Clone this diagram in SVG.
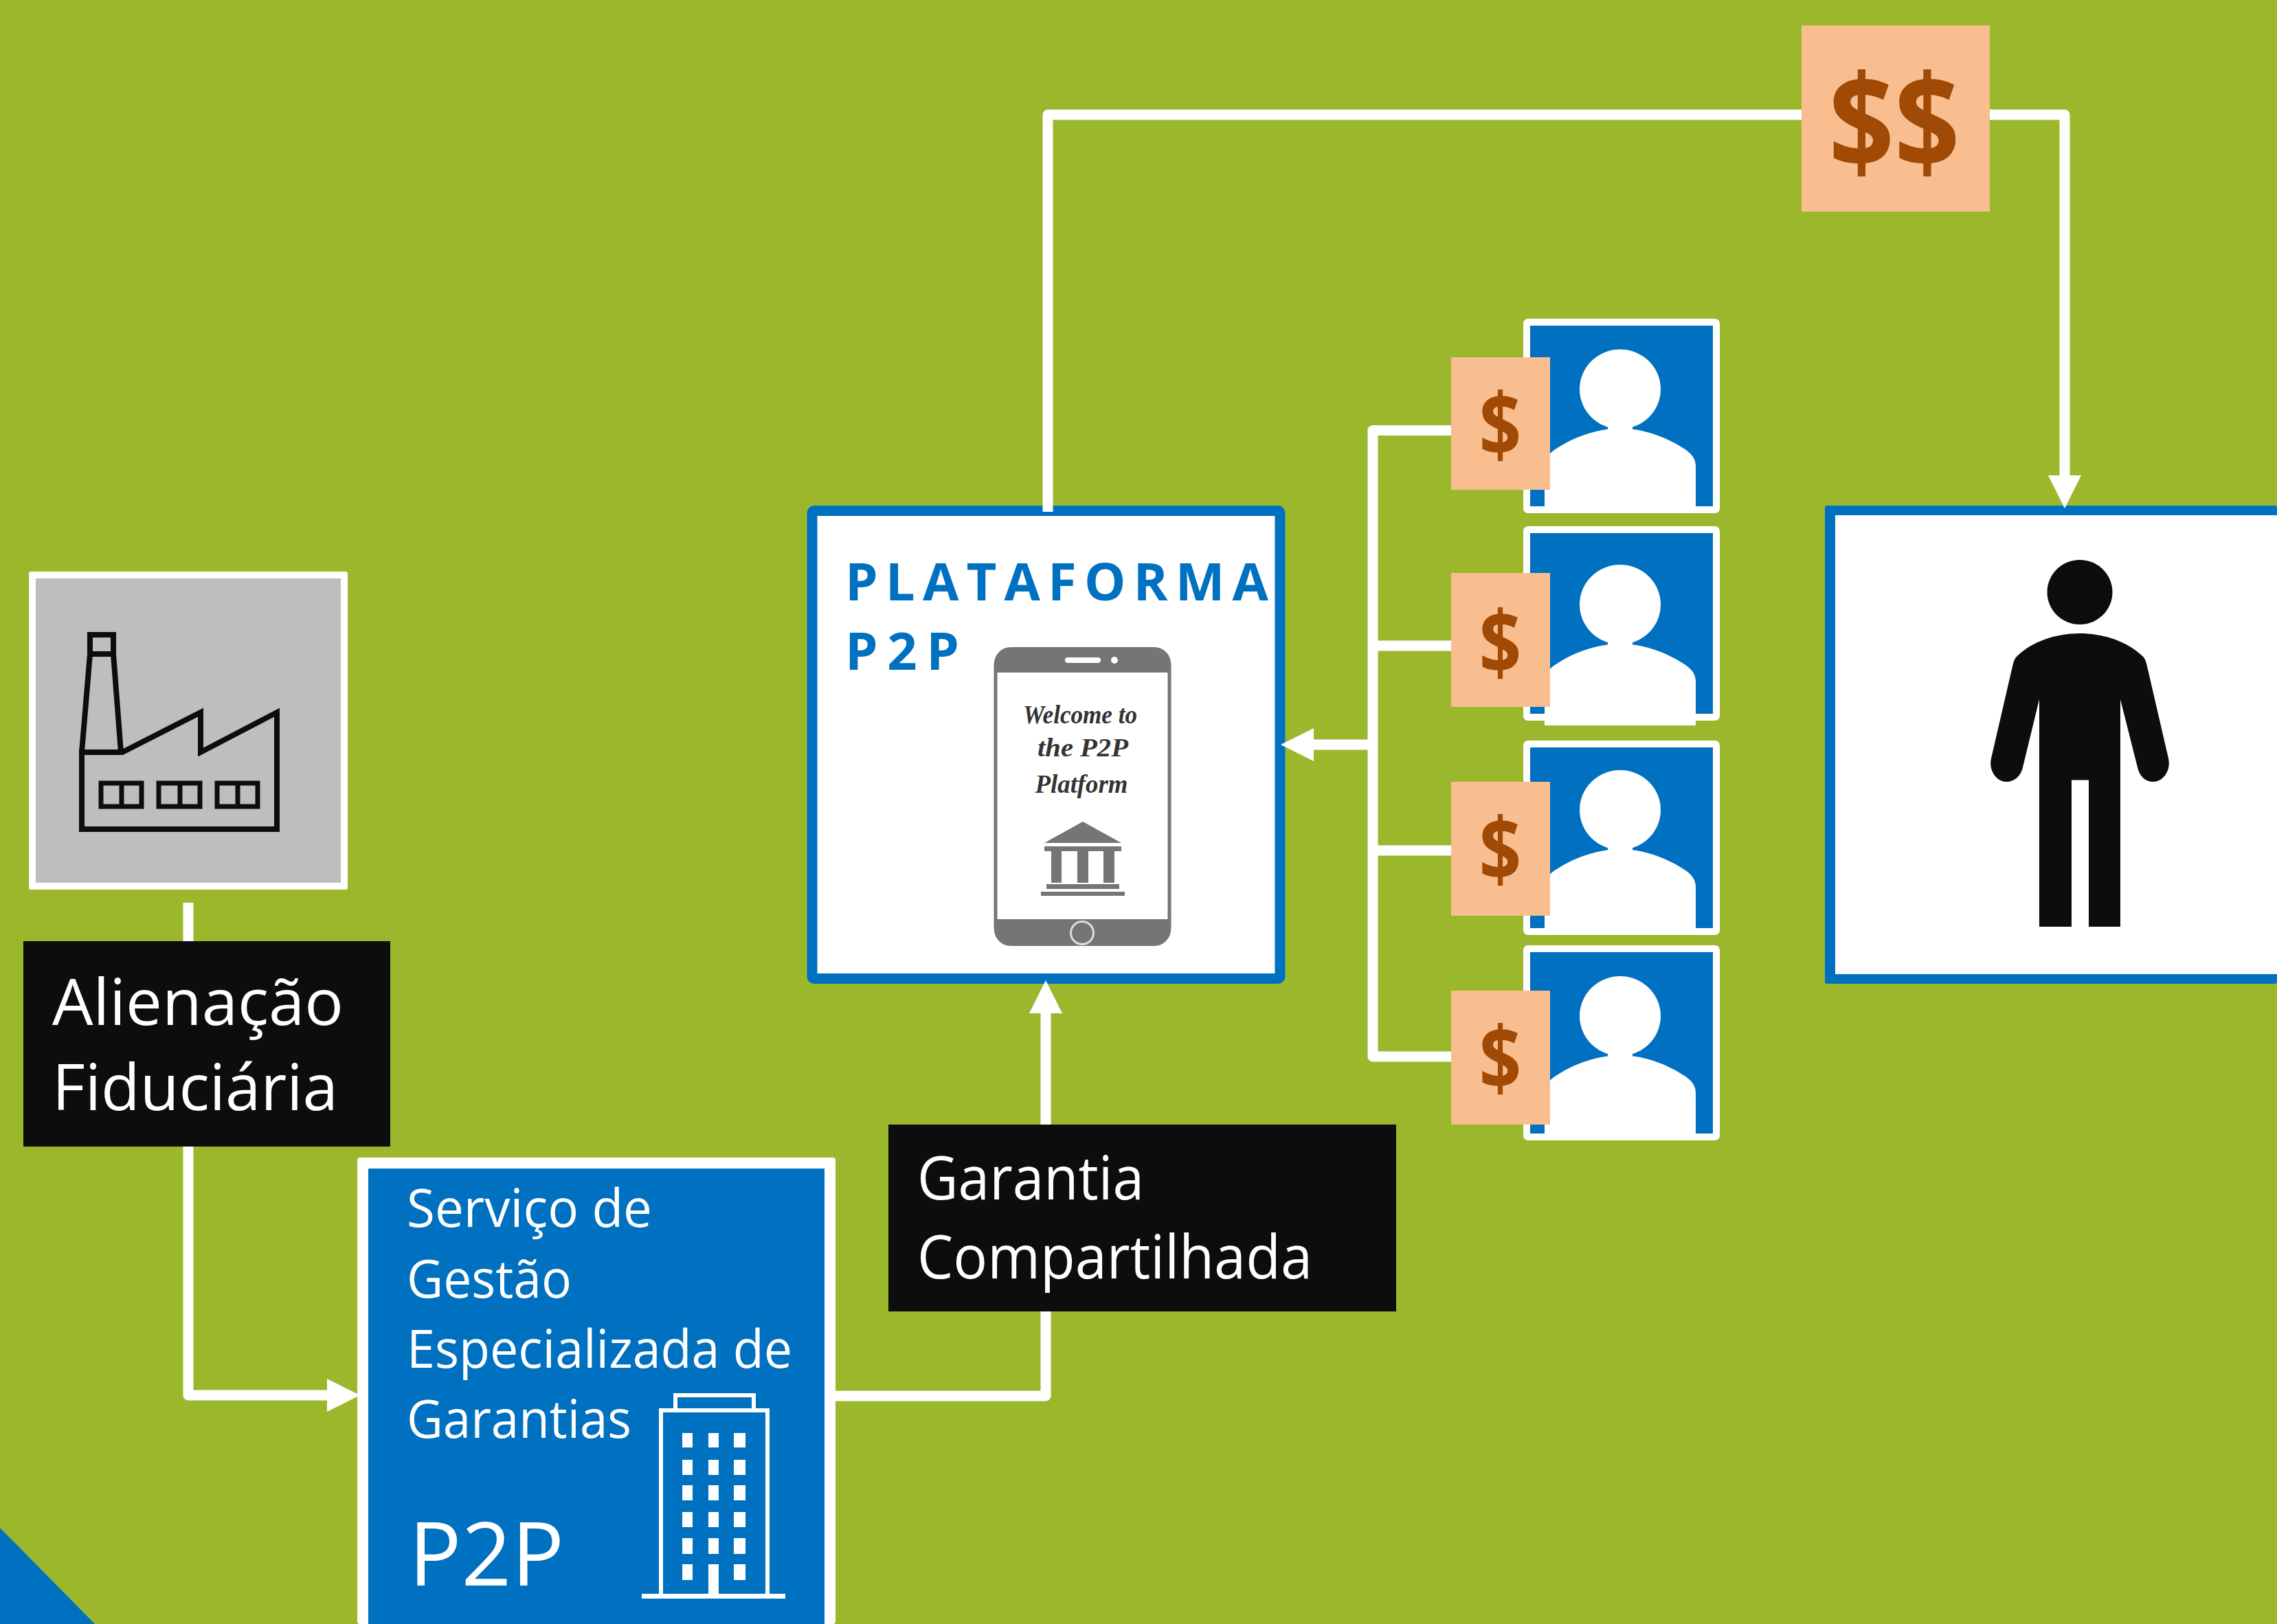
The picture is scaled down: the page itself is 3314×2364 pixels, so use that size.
<svg xmlns="http://www.w3.org/2000/svg" xmlns:xlink="http://www.w3.org/1999/xlink" width="3314" height="2364" viewBox="0 0 3314 2364">
<style>
.os{font-family:"Open Sans","Liberation Sans",sans-serif}
.wt{fill:#fff}
.lbl{font-size:94px}
.lbl2{font-size:88px}
.svc{font-size:76px}
.plat{font-size:76px;font-weight:700;fill:#0070C0}
.welcome{font-family:"Liberation Serif",serif;font-style:italic;font-weight:700;font-size:38px;fill:#333;text-anchor:middle}
.dollar{font-size:128px;font-weight:700;fill:#A04A05;text-anchor:middle}
.peach{fill:#F9BE8F}
.black{fill:#0D0D0D}
.card{fill:#0070C0;stroke:#fff;stroke-width:10;stroke-linejoin:round}
.conn{fill:none;stroke:#fff;stroke-width:15;stroke-linejoin:round}
.arrow{marker-end:url(#head)}
.fac{fill:none;stroke:#0D0D0D;stroke-width:8;stroke-linejoin:miter}
.bld{fill:none;stroke:#fff;stroke-width:6}
.ph{fill:#757575}
</style>
<defs>
<marker id="head" markerUnits="userSpaceOnUse" markerWidth="50" markerHeight="50" refX="0" refY="24" orient="auto" viewBox="0 0 50 48">
<path d="M0,0L48,24L0,48Z" fill="#fff"/>
</marker>
<g id="person">
<ellipse cx="0" cy="0" rx="59" ry="58" fill="#fff"/>
<rect x="-18" y="42" width="36" height="22" fill="#fff"/>
<path d="M-110,176V112C-110,100-102,92-92,86C-65,68-30,57 0,57C30,57 65,68 92,86C102,92 110,100 110,112V176Z" fill="#fff"/>
</g>
</defs>
<rect id="background" width="3314" height="2364" fill="#9BB82D"/>
<polygon id="corner" points="0,2224 138,2364 0,2364" fill="#0070C0"/>

<g id="factory">
<rect x="42" y="832" width="464" height="463" fill="#fff" rx="3"/>
<rect x="52" y="842" width="444" height="443" fill="#BEBEC0"/>
<path class="fac" d="M119,1095L131,952V924H165V952L176,1095M131,952H165"/>
<path class="fac" d="M119,1095H178L292,1037V1095L403,1037V1207H119Z"/>
<path class="fac" style="stroke-width:7" d="M147,1140H206V1174H147ZM177,1140V1174M231,1140H291V1174H231ZM262,1140V1174M316,1140H375V1174H316ZM346,1140V1174"/>
</g>

<g id="service">
<rect x="520" y="1685" width="696" height="679" rx="4" fill="#fff"/>
<rect x="536" y="1701" width="664" height="663" fill="#0070C0"/>
<text class="os wt svc" x="592" y="1786" textLength="357" lengthAdjust="spacingAndGlyphs">Serviço de</text>
<text class="os wt svc" x="592" y="1889" textLength="240" lengthAdjust="spacingAndGlyphs">Gestão</text>
<text class="os wt svc" x="592" y="1991" textLength="561" lengthAdjust="spacingAndGlyphs">Especializada de</text>
<text class="os wt svc" x="592" y="2093" textLength="327" lengthAdjust="spacingAndGlyphs">Garantias</text>
<text class="os wt" style="font-size:128px" x="595" y="2308" textLength="226" lengthAdjust="spacingAndGlyphs">P2P</text>
<path class="bld" d="M983,2053V2031H1097V2053M962,2324V2053H1117V2324"/>
<rect x="934" y="2320" width="209" height="7" fill="#fff"/>
<path fill="#fff" d="M993,2086h15v21h-15zM1031,2086h15v21h-15zM1068,2086h17v21h-17zM993,2125h15v22h-15zM1031,2125h15v22h-15zM1068,2125h17v22h-17zM993,2162h15v22h-15zM1031,2162h15v22h-15zM1068,2162h17v22h-17zM993,2201h15v22h-15zM1031,2201h15v22h-15zM1068,2201h17v22h-17zM993,2239h15v23h-15zM1031,2239h15v23h-15zM1068,2239h17v23h-17zM993,2277h15v23h-15zM1031,2277h15v47h-15zM1068,2277h17v23h-17z"/>
</g>

<g id="platform">
<rect x="1182" y="743.5" width="681" height="681" rx="3" fill="#fff" stroke="#0070C0" stroke-width="15"/>
<text class="os plat" x="1230" y="874" textLength="616">PLATAFORMA</text>
<text class="os plat" x="1230" y="975" textLength="166">P2P</text>
<rect x="1449" y="945" width="253" height="429" rx="24" fill="#fff" stroke="#757575" stroke-width="5"/>
<path class="ph" d="M1447,979V966a24,24 0 0 1 24-24H1680a24,24 0 0 1 24,24V979Z"/>
<path class="ph" d="M1447,1338V1353a24,24 0 0 0 24,24H1680a24,24 0 0 0 24-24V1338Z"/>
<rect x="1550" y="957" width="52" height="8" rx="4" fill="#fff"/>
<circle cx="1622" cy="961" r="5" fill="#fff"/>
<circle cx="1575" cy="1358" r="16.500" fill="#757575" stroke="#ddd" stroke-width="3"/>
<text class="welcome" x="1572" y="1053" textLength="166" lengthAdjust="spacingAndGlyphs">Welcome to</text>
<text class="welcome" x="1576" y="1101" textLength="132" lengthAdjust="spacingAndGlyphs">the P2P</text>
<text class="welcome" x="1574" y="1154" textLength="135" lengthAdjust="spacingAndGlyphs">Platform</text>
<path class="ph" d="M1576,1196L1632,1227H1520Z"/>
<rect class="ph" x="1520" y="1232" width="112" height="7"/>
<path class="ph" d="M1530,1239h15v46h-15zM1568,1239h16v46h-16zM1606,1239h16v46h-16z"/>
<rect class="ph" x="1523" y="1287" width="106" height="7"/>
<rect class="ph" x="1515" y="1298" width="122" height="6"/>
</g>

<g id="investor-1"><rect class="card" x="2222" y="469" width="276" height="273" rx="2"/><use xlink:href="#person" href="#person" x="2358" y="566.500"/></g>
<g id="investor-2"><rect class="card" x="2222" y="771" width="276" height="273" rx="2"/><use xlink:href="#person" href="#person" x="2358" y="880"/></g>
<g id="investor-3"><rect class="card" x="2222" y="1083" width="276" height="273" rx="2"/><use xlink:href="#person" href="#person" x="2358" y="1179"/></g>
<g id="investor-4"><rect class="card" x="2222" y="1381" width="276" height="274" rx="2"/><use xlink:href="#person" href="#person" x="2358" y="1479"/></g>

<g id="borrower">
<rect x="2656" y="736" width="658" height="696" rx="3" fill="#0070C0"/>
<rect x="2671" y="750" width="643" height="668" fill="#fff"/>
<ellipse cx="3027" cy="862" rx="47.500" ry="47" fill="#0D0D0D"/>
<path fill="#0D0D0D" d="M3027,922C2992,922 2958,934 2937,954C2932,958 2931,962 2929,970L2898,1104C2894,1122 2906,1138 2920,1138C2932,1138 2941,1130 2944,1117L2968,1018V1349H3015V1135.500H3040V1349H3086V1018L3111,1117C3114,1130 3122,1138 3134,1138C3148,1138 3160,1122 3156,1104L3125,970C3123,962 3122,958 3117,954C3096,934 3062,922 3027,922Z"/>
</g>

<g id="connectors">
<path class="conn arrow" d="M1525,745V167H3005V692"/>
<path class="conn" d="M2112,626.500H1998V1538H2112M1998,940H2112M1998,1238H2112"/>
<path class="conn arrow" d="M1998,1084H1912"/>
<path class="conn arrow" d="M274,1314V2031H476"/>
<path class="conn arrow" d="M1216,2032H1522V1475"/>
</g>

<g id="money-top"><rect class="peach" x="2622" y="37" width="274" height="271"/><text class="os dollar" style="font-size:190px" transform="translate(2757,246) scale(.88,1)">$$</text></g>
<g id="money-1"><rect class="peach" x="2112" y="520" width="144" height="193"/><text class="os dollar" transform="translate(2183.500,664) scale(.84,1)">$</text></g>
<g id="money-2"><rect class="peach" x="2112" y="834" width="144" height="195"/><text class="os dollar" transform="translate(2183.500,981) scale(.84,1)">$</text></g>
<g id="money-3"><rect class="peach" x="2112" y="1138" width="144" height="195"/><text class="os dollar" transform="translate(2183.500,1282) scale(.84,1)">$</text></g>
<g id="money-4"><rect class="peach" x="2112" y="1442" width="144" height="195"/><text class="os dollar" transform="translate(2183.500,1586) scale(.84,1)">$</text></g>

<g id="label-alienacao">
<rect class="black" x="34" y="1370" width="534" height="299"/>
<text class="os wt lbl" x="76" y="1492" textLength="424" lengthAdjust="spacingAndGlyphs">Alienação</text>
<text class="os wt lbl" x="76" y="1616" textLength="416" lengthAdjust="spacingAndGlyphs">Fiduciária</text>
</g>
<g id="label-garantia">
<rect class="black" x="1293" y="1637" width="739" height="272"/>
<text class="os wt lbl2" x="1335" y="1746" textLength="330" lengthAdjust="spacingAndGlyphs">Garantia</text>
<text class="os wt lbl2" x="1335" y="1861" textLength="575" lengthAdjust="spacingAndGlyphs">Compartilhada</text>
</g>
</svg>
